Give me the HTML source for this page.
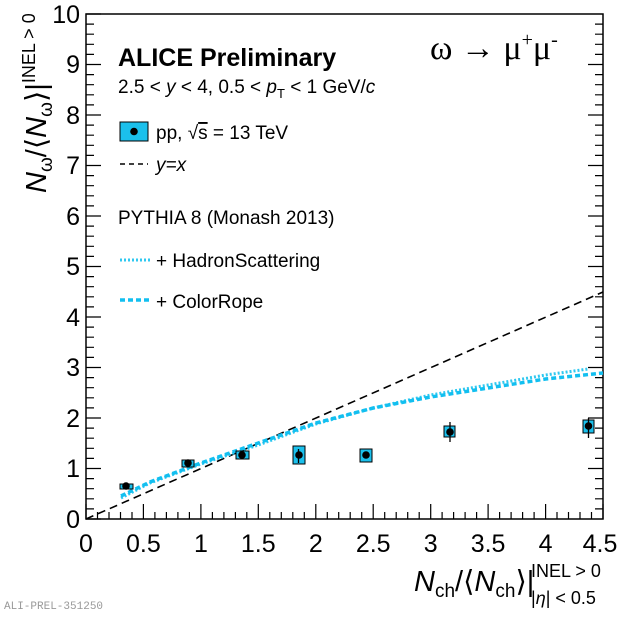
<!DOCTYPE html>
<html><head><meta charset="utf-8"><style>
body{margin:0;background:#fff;width:630px;height:614px;overflow:hidden}
svg{font-family:"Liberation Sans",sans-serif}
</style></head><body>
<svg width="630" height="614" viewBox="0 0 630 614" xmlns="http://www.w3.org/2000/svg">
<rect x="86" y="14" width="517" height="505" fill="none" stroke="#000" stroke-width="1.5"/>
<g stroke="#000" stroke-width="1.2">
<path d="M86 519v-15M143.4 519v-15M200.9 519v-15M258.3 519v-15M315.8 519v-15M373.2 519v-15M430.7 519v-15M488.1 519v-15M545.6 519v-15M603 519v-15"/>
<path d="M97.5 519v-7M109 519v-7M120.5 519v-7M132 519v-7M154.9 519v-7M166.4 519v-7M177.9 519v-7M189.4 519v-7M212.4 519v-7M223.9 519v-7M235.4 519v-7M246.8 519v-7M269.8 519v-7M281.3 519v-7M292.8 519v-7M304.3 519v-7M327.3 519v-7M338.7 519v-7M350.2 519v-7M361.7 519v-7M384.7 519v-7M396.2 519v-7M407.7 519v-7M419.2 519v-7M442.1 519v-7M453.6 519v-7M465.1 519v-7M476.6 519v-7M499.6 519v-7M511.1 519v-7M522.6 519v-7M534.1 519v-7M557 519v-7M568.5 519v-7M580 519v-7M591.5 519v-7"/>
<path d="M86 519h15M86 468.5h15M86 418h15M86 367.5h15M86 317h15M86 266.5h15M86 216h15M86 165.5h15M86 115h15M86 64.5h15M86 14h15"/>
<path d="M603 468.5h-15M603 418h-15M603 367.5h-15M603 317h-15M603 266.5h-15M603 216h-15M603 165.5h-15M603 115h-15M603 64.5h-15"/>
</g>
<g stroke="#000" stroke-width="1.2" id="minor"></g>
<script>
var g=document.getElementById('minor'),d='';
for(var i=0;i<50;i++){if(i%5==0)continue;var y=519-i*10.1;d+='M86 '+y+'h8M603 '+y+'h-8';}
var p=document.createElementNS('http://www.w3.org/2000/svg','path');p.setAttribute('d',d);g.appendChild(p);
</script>
<g font-size="25" text-anchor="middle">
<text x="86" y="552">0</text><text x="143.4" y="552">0.5</text><text x="200.9" y="552">1</text><text x="258.3" y="552">1.5</text><text x="315.8" y="552">2</text><text x="373.2" y="552">2.5</text><text x="430.7" y="552">3</text><text x="488.1" y="552">3.5</text><text x="545.6" y="552">4</text><text x="600" y="552">4.5</text>
</g>
<g font-size="25" text-anchor="end">
<text x="80" y="528">0</text><text x="80" y="477">1</text><text x="80" y="427">2</text><text x="80" y="376">3</text><text x="80" y="326">4</text><text x="80" y="275">5</text><text x="80" y="225">6</text><text x="80" y="174">7</text><text x="80" y="124">8</text><text x="80" y="73">9</text><text x="80" y="23">10</text>
</g>
<line x1="86" y1="519" x2="603" y2="292" stroke="#000" stroke-width="1.6" stroke-dasharray="8,5"/>
<path d="M121 498 L150 483 L200.9 464 L258.3 445 L315.8 424 L373.2 408 L430.7 395 L488.1 385 L545.6 375 L588 369" fill="none" stroke="#2fc8f0" stroke-width="3" stroke-dasharray="2,2"/>
<path d="M121 496 L150 482 L200.9 463 L258.3 443 L315.8 423 L373.2 408 L430.7 397 L488.1 388 L545.6 379 L603 373" fill="none" stroke="#12bff0" stroke-width="3.5" stroke-dasharray="5,3"/>
<g fill="#1bc0ec" stroke="#000" stroke-width="1">
<rect x="120" y="484" width="13" height="5"/>
<rect x="182" y="460" width="12" height="7"/>
<rect x="236" y="451" width="13" height="8"/>
<rect x="293" y="446" width="12" height="18"/>
<rect x="360" y="449" width="12" height="13"/>
<rect x="444" y="426" width="11" height="11"/>
<rect x="583" y="420" width="11" height="13"/>
</g>
<g stroke="#000" stroke-width="1.3">
<path d="M450 422v20M588.5 418v20M298.5 449v14"/>
</g>
<g fill="#000">
<circle cx="126" cy="486" r="3.8"/><circle cx="188" cy="463" r="3.8"/><circle cx="242" cy="455" r="3.8"/><circle cx="299" cy="455" r="3.8"/><circle cx="366" cy="455" r="3.8"/><circle cx="450" cy="432" r="3.8"/><circle cx="588.5" cy="426" r="3.8"/>
</g>
<text x="118" y="66" font-size="25" font-weight="bold">ALICE Preliminary</text>
<text x="118" y="93" font-size="19">2.5 &lt; <tspan font-style="italic">y</tspan> &lt; 4, 0.5 &lt; <tspan font-style="italic">p</tspan><tspan font-size="13" dy="5">T</tspan><tspan dy="-5"> &lt; 1 GeV/</tspan><tspan font-style="italic">c</tspan></text>
<text x="430" y="59" font-size="34" font-family="Liberation Serif,serif">ω → μ<tspan font-size="20" dy="-13">+</tspan><tspan dy="13">μ</tspan><tspan font-size="20" dy="-13">-</tspan></text>
<rect x="120" y="122" width="28" height="19" fill="#1bc0ec" stroke="#000"/>
<circle cx="134" cy="131.5" r="3.8"/>
<text x="156" y="139" font-size="19">pp, √<tspan text-decoration="overline">s</tspan> = 13 TeV</text>
<line x1="120" y1="164" x2="148" y2="164" stroke="#000" stroke-width="1.6" stroke-dasharray="5,4"/>
<text x="156" y="171" font-size="19" font-style="italic">y=x</text>
<text x="118" y="224" font-size="19">PYTHIA 8 (Monash 2013)</text>
<line x1="120" y1="260" x2="150" y2="260" stroke="#2fc8f0" stroke-width="3" stroke-dasharray="2,2"/>
<text x="156" y="267" font-size="19">+ HadronScattering</text>
<line x1="120" y1="300" x2="150" y2="300" stroke="#12bff0" stroke-width="3.5" stroke-dasharray="5,3"/>
<text x="156" y="308" font-size="19">+ ColorRope</text>
<text x="414" y="591" font-size="29"><tspan font-style="italic">N</tspan><tspan font-size="19" dy="6">ch</tspan><tspan dy="-6">/⟨</tspan><tspan font-style="italic">N</tspan><tspan font-size="19" dy="6">ch</tspan><tspan dy="-6">⟩|</tspan></text>
<text x="531" y="577" font-size="18">INEL &gt; 0</text>
<text x="531" y="604" font-size="18">|<tspan font-style="italic">η</tspan>| &lt; 0.5</text>
<g transform="translate(46,193) rotate(-90)">
<text x="0" y="0" font-size="29"><tspan font-style="italic">N</tspan><tspan font-size="19" dy="6">ω</tspan><tspan dy="-6">/⟨</tspan><tspan font-style="italic">N</tspan><tspan font-size="19" dy="6">ω</tspan><tspan dy="-6">⟩|</tspan><tspan font-size="18" dy="-11">INEL &gt; 0</tspan></text>
</g>
<text x="4" y="609" font-size="11" font-family="Liberation Mono,monospace" fill="#999">ALI-PREL-351250</text>
</svg>
</body></html>
